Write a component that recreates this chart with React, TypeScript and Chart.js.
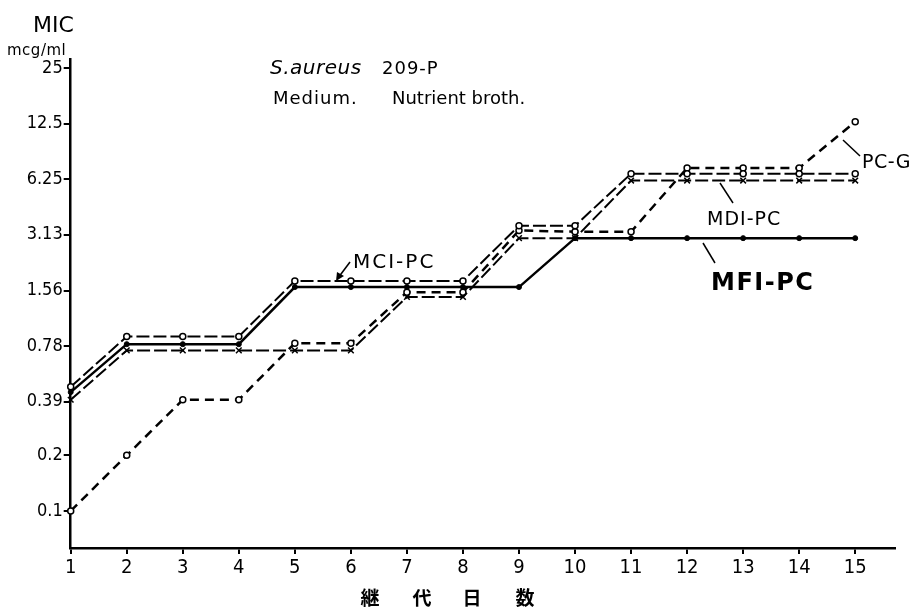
import React, { useEffect, useRef } from "react";
import { Chart, registerables } from "chart.js";

Chart.register(...registerables);

// ---- data ----
const days = [1, 2, 3, 4, 5, 6, 7, 8, 9, 10, 11, 12, 13, 14, 15];
const xTickValues = [1, 2, 3, 4, 5, 6, 7, 8, 9, 10, 11, 12, 13, 14, 15];
const yTickValues = [0.1, 0.2, 0.39, 0.78, 1.56, 3.13, 6.25, 12.5, 25];
const yTickLabels = ["0.1", "0.2", "0.39", "0.78", "1.56", "3.13", "6.25", "12.5", "25"];

const mciPC = [0.47, 0.88, 0.88, 0.88, 1.76, 1.76, 1.76, 1.76, 3.5, 3.5, 6.7, 6.7, 6.7, 6.7, 6.7];
const mfiPC = [0.44, 0.8, 0.8, 0.8, 1.63, 1.63, 1.63, 1.63, 1.63, 3.0, 3.0, 3.0, 3.0, 3.0, 3.0];
const mdiPC = [0.4, 0.74, 0.74, 0.74, 0.74, 0.74, 1.44, 1.44, 3.0, 3.0, 6.15, 6.15, 6.15, 6.15, 6.15];
const pcG = [0.1, 0.2, 0.4, 0.4, 0.81, 0.81, 1.53, 1.53, 3.3, 3.25, 3.25, 7.2, 7.2, 7.2, 12.8];

const FONT = '"Liberation Sans Narrow", "DejaVu Sans Condensed", "DejaVu Sans", sans-serif';
const FONT2 = '"DejaVu Sans", sans-serif';

const toPts = (arr: number[]) => days.map((d, i) => ({ x: d, y: arr[i] }));

const annotations = {
  id: "annotations",
  afterDraw(chart: any) {
    const ctx = chart.ctx as any;
    ctx.save();
    ctx.fillStyle = "#000";
    ctx.strokeStyle = "#000";
    ctx.textBaseline = "alphabetic";
    ctx.textAlign = "left";

    const text = (s: string, x: number, y: number, font: string, spacing = "0px") => {
      ctx.font = font;
      ctx.letterSpacing = spacing;
      ctx.fillText(s, x, y);
      ctx.letterSpacing = "0px";
    };

    // y-axis title
    text("MIC", 33, 32, `22px ${FONT2}`);
    text("mcg/ml", 7, 55, `15px ${FONT2}`, "0.5px");

    // header
    text("S.aureus", 270, 74, `italic 20px ${FONT2}`, "0.5px");
    text("209-P", 382, 74, `18px ${FONT2}`, "1px");
    text("Medium.", 273, 104, `18px ${FONT2}`, "1px");
    text("Nutrient broth.", 392, 104, `18px ${FONT2}`, "0px");

    const line = (x1: number, y1: number, x2: number, y2: number, w = 1.5) => {
      ctx.lineWidth = w;
      ctx.beginPath();
      ctx.moveTo(x1, y1);
      ctx.lineTo(x2, y2);
      ctx.stroke();
    };

    // MCI-PC with arrow
    text("MCI-PC", 353, 268, `20px ${FONT2}`, "2px");
    line(350, 262, 338, 278);
    ctx.beginPath();
    ctx.moveTo(336, 281);
    ctx.lineTo(337, 272);
    ctx.lineTo(344, 276);
    ctx.closePath();
    ctx.fill();

    // MDI-PC
    text("MDI-PC", 707, 225, `19px ${FONT2}`, "1px");
    line(733, 203, 720, 183);

    // PC-G
    text("PC-G", 862, 168, `19px ${FONT2}`, "0.5px");
    line(860, 156, 843, 140);

    // MFI-PC
    text("MFI-PC", 711, 290, `bold 24px ${FONT2}`, "1.5px");
    line(715, 263, 703, 243);

    // x-axis title
    ctx.font = `bold 19px "Noto Sans CJK JP", sans-serif`;
    ctx.textAlign = "center";
    ctx.textBaseline = "middle";
    const chars = ["継", "代", "日", "数"];
    const cx = [370, 422, 472, 525];
    chars.forEach((c, i) => ctx.fillText(c, cx[i], 598));
    ctx.restore();
  },
};

export default function App() {
  const ref = useRef<HTMLCanvasElement | null>(null);

  useEffect(() => {
    document.body.style.margin = "0";
    const canvas = ref.current;
    if (!canvas) return;
    const chart = new Chart(canvas, {
      type: "line",
      data: {
        datasets: [
          {
            label: "MCI-PC",
            data: toPts(mciPC),
            borderColor: "#000",
            borderWidth: 2,
            borderDash: [13, 4],
            pointStyle: "circle",
            pointRadius: 3,
            pointBackgroundColor: "#fff",
            pointBorderColor: "#000",
            pointBorderWidth: 1.5,
            tension: 0,
          },
          {
            label: "MFI-PC",
            data: toPts(mfiPC),
            borderColor: "#000",
            borderWidth: 2.5,
            pointStyle: "circle",
            pointRadius: 2.5,
            pointBackgroundColor: "#000",
            pointBorderColor: "#000",
            pointBorderWidth: 1,
            tension: 0,
          },
          {
            label: "MDI-PC",
            data: toPts(mdiPC),
            borderColor: "#000",
            borderWidth: 2,
            borderDash: [13, 4],
            pointStyle: "crossRot",
            pointRadius: 4,
            pointBorderColor: "#000",
            pointBorderWidth: 1.5,
            tension: 0,
          },
          {
            label: "PC-G",
            data: toPts(pcG),
            borderColor: "#000",
            borderWidth: 2.5,
            borderDash: [9, 6],
            pointStyle: "circle",
            pointRadius: 3,
            pointBackgroundColor: "#fff",
            pointBorderColor: "#000",
            pointBorderWidth: 1.5,
            tension: 0,
          },
        ],
      },
      options: {
        animation: false,
        responsive: true,
        maintainAspectRatio: false,
        clip: false as any,
        layout: { padding: { top: 59, right: 19, left: 0, bottom: 0 } },
        plugins: {
          legend: { display: false },
          tooltip: { enabled: false },
          title: { display: false },
        },
        scales: {
          x: {
            type: "linear",
            min: 1,
            max: 15.71,
            afterBuildTicks: (scale: any) => {
              scale.ticks = xTickValues.map((v) => ({ value: v }));
            },
            afterFit: (scale: any) => {
              scale.height = 61;
            },
            border: { display: true, color: "#000", width: 2.5 },
            grid: { drawOnChartArea: false, drawTicks: true, tickLength: 6, color: "#000", lineWidth: 2 },
            ticks: {
              color: "#000",
              padding: 2,
              maxRotation: 0,
              autoSkip: false,
              font: { family: FONT, size: 20 },
              callback: (v: any) => String(v),
            },
          },
          y: {
            type: "logarithmic",
            min: 0.063,
            max: 28,
            afterBuildTicks: (scale: any) => {
              scale.ticks = yTickValues.map((v) => ({ value: v }));
            },
            afterFit: (scale: any) => {
              scale.width = 70.7;
            },
            border: { display: true, color: "#000", width: 2.5 },
            grid: { drawOnChartArea: false, drawTicks: true, tickLength: 7, color: "#000", lineWidth: 2 },
            ticks: {
              color: "#000",
              padding: 1,
              autoSkip: false,
              font: { family: FONT, size: 18 },
              callback: (_v: any, i: number) => yTickLabels[i],
            },
          },
        },
      },
      plugins: [annotations],
    });
    return () => chart.destroy();
  }, []);

  return (
    <div style={{ position: "absolute", left: 0, top: 0, width: 914, height: 609, background: "#fff" }}>
      <canvas ref={ref} />
    </div>
  );
}
